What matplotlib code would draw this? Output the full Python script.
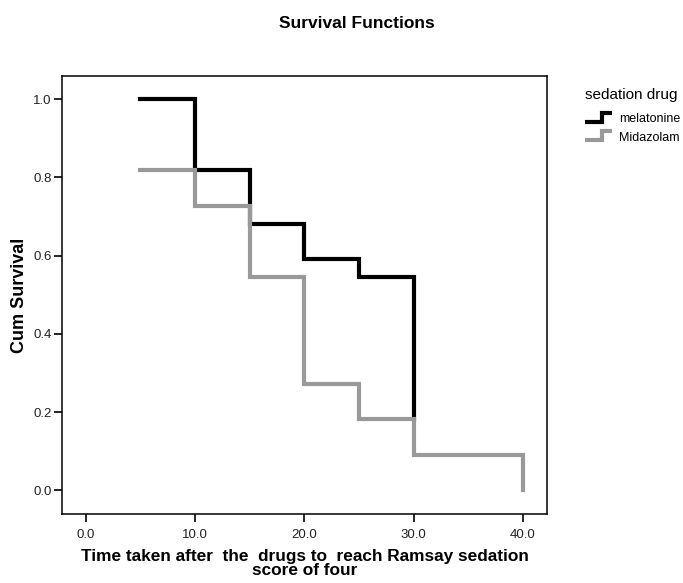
import matplotlib
matplotlib.use("Agg")
import matplotlib.pyplot as plt
from matplotlib.legend_handler import HandlerBase
from matplotlib.lines import Line2D

plt.rcParams['font.family'] = ['Liberation Sans', 'DejaVu Sans']

# step data
mel_time = [5, 10, 15, 20, 25, 30]
mel_surv = [1.0, 0.818, 0.682, 0.591, 0.545, 0.182]
mid_time = [5, 10, 15, 20, 25, 30, 40]
mid_surv = [0.818, 0.727, 0.545, 0.273, 0.182, 0.091, 0.0]

groups = ['melatonine', 'Midazolam']
x_ticks = [0, 10, 20, 30, 40]
y_ticks = [0.0, 0.2, 0.4, 0.6, 0.8, 1.0]


def step_points(t, s):
    xs, ys = [t[0]], [s[0]]
    for i in range(1, len(t)):
        xs += [t[i], t[i]]
        ys += [s[i - 1], s[i]]
    return xs, ys


class StepHandler(HandlerBase):
    # little step icon like the SPSS legend
    def create_artists(self, legend, orig_handle, xdescent, ydescent,
                       width, height, fontsize, trans):
        x0 = -xdescent
        xs = [x0, x0 + 0.62 * width, x0 + 0.62 * width, x0 + width]
        ys = [0.05 * height, 0.05 * height, 0.95 * height, 0.95 * height]
        ln = Line2D(xs, ys, color=orig_handle.get_color(), lw=orig_handle.get_linewidth(),
                    solid_joinstyle='miter', solid_capstyle='butt')
        ln.set_transform(trans)
        return [ln]


def main():
    fig = plt.figure(figsize=(6.83, 5.83), dpi=100)
    ax = fig.add_axes([0.0908, 0.1184, 0.7102, 0.7512])

    xs, ys = step_points(mel_time, mel_surv)
    h1, = ax.plot(xs, ys, color='black', lw=3, solid_joinstyle='miter', label=groups[0])
    xs, ys = step_points(mid_time, mid_surv)
    h2, = ax.plot(xs, ys, color='#999999', lw=3, solid_joinstyle='miter', label=groups[1])

    ax.set_xlim(-2.17, 42.2)
    ax.set_ylim(-0.06, 1.059)
    ax.set_xticks(x_ticks)
    ax.set_xticklabels([f'{v:.1f}' for v in x_ticks])
    ax.set_yticks(y_ticks)
    ax.set_yticklabels([f'{v:.1f}' for v in y_ticks])
    ax.tick_params(direction='out', length=6, width=1.2, labelsize=9.5, labelcolor='#222222')
    ax.tick_params(axis='x', pad=5)
    ax.tick_params(axis='y', pad=1.5)
    for sp in ax.spines.values():
        sp.set_linewidth(1.1)

    ax.set_xlabel('Time taken after  the  drugs to  reach Ramsay sedation\nscore of four',
                  fontsize=12.4, fontweight='bold', linespacing=0.92)
    ax.xaxis.set_label_coords(0.5, -0.081)
    ax.set_ylabel('Cum Survival', fontsize=13, fontweight='bold')
    ax.yaxis.set_label_coords(-0.07, 0.50)
    fig.text(0.523, 0.9605, 'Survival Functions', ha='center', va='center',
             fontsize=12.5, fontweight='bold')

    # legend title placed on its own so the gap to the entries matches
    fig.text(0.8565, 1 - 95 / 583, 'sedation drug', ha='left', va='center', fontsize=11)
    fig.legend([h1, h2], groups, loc='upper left', bbox_to_anchor=(0.8565, 1 - 113 / 583),
               frameon=False, fontsize=9,
               handler_map={Line2D: StepHandler()}, handlelength=2.2, handleheight=0.85,
               handletextpad=0.5, labelspacing=0.5, borderaxespad=0, borderpad=0)

    fig.savefig('out.png', dpi=100)


if __name__ == "__main__":
    main()
